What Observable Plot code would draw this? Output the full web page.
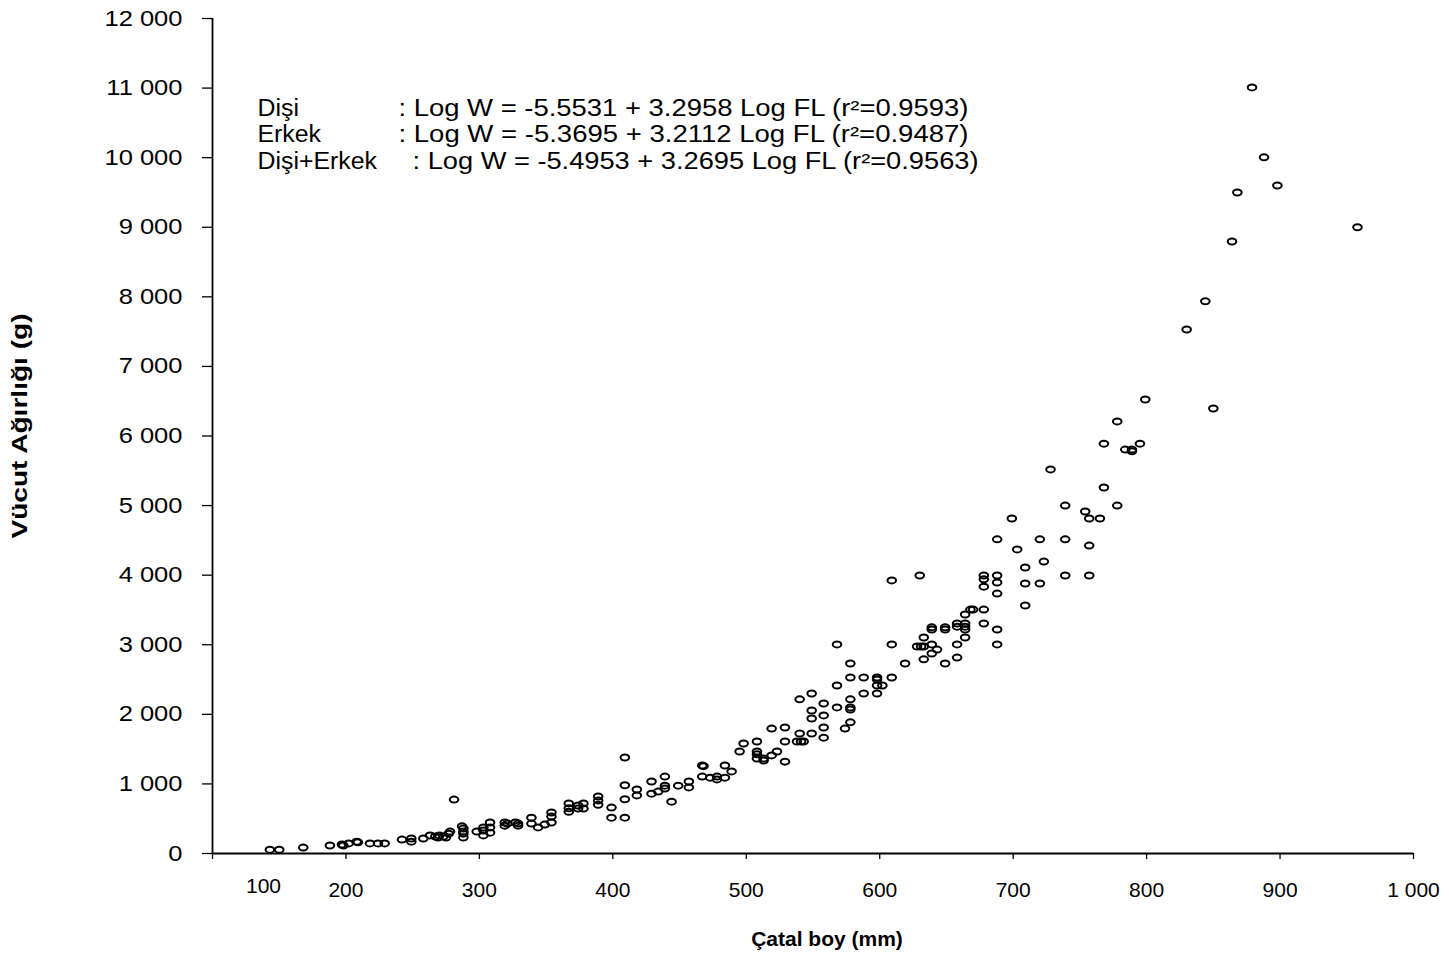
<!DOCTYPE html>
<html>
<head>
<meta charset="utf-8">
<script src="https://cdn.jsdelivr.net/npm/d3@7"></script>
<script src="https://cdn.jsdelivr.net/npm/@observablehq/plot@0.6"></script>
<style>
  body { margin: 0; background: #fff; }
  #chart svg { display: block; }
</style>
</head>
<body>
<div id="chart"></div>
<script>
// Fork length (mm)
const catalBoy = [
  143,150,168,188,197,198,202,208,209,218,224,229,242,249,249,258,263,267,269,270,273,275,277,278,281,287,288,288,288,288,298,
  303,303,303,308,308,308,319,319,321,327,329,329,339,339,344,349,354,354,354,
  367,367,367,374,374,378,378,389,389,389,399,399,409,409,409,409,418,418,429,429,434,439,439,439,444,449,457,457,467,468,467,473,478,478,484,484,489,495,498,508,508,508,508,513,513,519,519,523,
  529,529,529,538,541,543,540,540,549,549,549,549,558,558,558,558,568,568,568,574,578,578,578,578,578,578,588,588,598,598,598,598,602,609,609,609,619,628,630,631,633,633,633,639,639,639,639,643,649,649,649,658,658,658,658,664,664,664,664,664,668,670,678,678,678,678,678,
  688,688,688,688,688,688,699,703,709,709,709,720,720,723,728,739,739,739,754,757,765,757,757,768,768,778,778,784,789,789,795,
  799,830,844,850,864,868,879,888,898,958
];
// Body weight (g)
const vucutAgirligi = [
  55,55,85,115,130,115,145,170,160,145,145,145,200,215,170,215,260,245,230,260,245,230,285,315,775,390,360,315,285,230,315,
  375,330,260,445,375,300,445,400,430,445,430,400,515,430,375,415,590,530,445,
  720,650,600,690,645,720,645,820,760,700,660,515,1380,980,780,515,920,835,1035,860,890,1105,975,935,745,975,1035,950,1265,1255,1105,1090,1105,1065,1265,1090,1180,1465,1580,1610,1465,1425,1365,1335,1365,1795,1410,1465,
  1810,1610,1320,1610,1610,1610,1725,2215,2300,2055,1940,1725,2155,1985,1810,1665,3005,2415,2100,1795,2730,2530,2215,2100,2070,1885,2530,2300,2530,2500,2415,2300,2415,3925,3005,2530,2730,2975,3995,2975,2975,3105,2790,3250,3220,3005,2875,2930,3250,3220,2730,3305,3260,3005,2815,3435,3305,3260,3220,3105,3505,3505,3995,3940,3835,3505,3305,
  3995,3895,3735,3220,3005,4515,4815,4370,4110,3880,3565,4515,3880,4195,5520,5000,4515,3995,4915,4815,4815,4425,3995,5890,5260,6210,5000,5805,5805,5780,5890,
  6525,7530,7935,6395,8795,9500,11010,10005,9600,9000
];

const xDomain = [100, 1000];
const yDomain = [0, 12000];
const xTicks = [100, 200, 300, 400, 500, 600, 700, 800, 900, 1000];
const yTicks = [0, 1000, 2000, 3000, 4000, 5000, 6000, 7000, 8000, 9000, 10000, 11000, 12000];
const xFirstTickLabel = ["100"];

const eqGroups = ["Dişi", "Erkek", "Dişi+Erkek"];
const eqFormulas = [
  ": Log W = -5.5531 + 3.2958 Log FL (r²=0.9593)",
  ": Log W = -5.3695 + 3.2112 Log FL (r²=0.9487)",
  ": Log W = -5.4953 + 3.2695 Log FL (r²=0.9563)"
];

const xTitle = "Çatal boy (mm)";
const yTitle = "Vücut Ağırlığı (g)";

const points = catalBoy.map((fl, i) => ({fl, w: vucutAgirligi[i]}));

const fmt = d3.formatLocale({decimal: ".", thousands: " ", grouping: [3], currency: ["", ""]}).format(",");

const ellipse = {
  draw(ctx) {
    const rx = 4.3, ry = 3.0, k = 0.5523;
    ctx.moveTo(rx, 0);
    ctx.bezierCurveTo(rx, ry * k, rx * k, ry, 0, ry);
    ctx.bezierCurveTo(-rx * k, ry, -rx, ry * k, -rx, 0);
    ctx.bezierCurveTo(-rx, -ry * k, -rx * k, -ry, 0, -ry);
    ctx.bezierCurveTo(rx * k, -ry, rx, -ry * k, rx, 0);
    ctx.closePath();
  }
};

const font = "'Liberation Sans', Arial, Helvetica, sans-serif";

// layout of the equation block (pixels relative to the plot frame)
const eqLineDy = [90, 116, 143];
const eqFormulaDx = [186, 186, 200];
const eqFormulaLen = [570, 570, 566];

const eqMarks = [];
eqGroups.forEach((g, i) => {
  eqMarks.push(Plot.text([g], {text: d => d, frameAnchor: "top-left", dx: 45, dy: eqLineDy[i], textAnchor: "start", lineAnchor: "middle", fontSize: 23, fill: "black"}));
  eqMarks.push(Plot.text([eqFormulas[i]], {text: d => d, frameAnchor: "top-left", dx: eqFormulaDx[i], dy: eqLineDy[i], textAnchor: "start", lineAnchor: "middle", fontSize: 23, fill: "black"}));
});

const chart = Plot.plot({
  width: 1449,
  height: 959,
  marginLeft: 212,
  marginRight: 36,
  marginTop: 18,
  marginBottom: 106,
  style: {fontFamily: font, fontSize: "21px", color: "black", background: "white", overflow: "visible"},
  x: {domain: xDomain},
  y: {domain: yDomain},
  marks: [
    Plot.ruleX([xDomain[0]], {stroke: "black", strokeWidth: 1.8}),
    Plot.ruleY([yDomain[0]], {stroke: "black", strokeWidth: 1.8}),
    Plot.axisY({ticks: yTicks, tickSize: 10, tickPadding: 20, tickFormat: fmt, label: null, stroke: "black", strokeWidth: 1.3, fontSize: 22}),
    Plot.axisX({ticks: xTicks, tickSize: 6, tickPadding: 23, tickFormat: d => d === xDomain[0] ? "" : fmt(d), label: null, stroke: "black", strokeWidth: 1.3}),
    Plot.text(xFirstTickLabel, {x: () => xDomain[0], text: d => d, frameAnchor: "bottom", dx: 51, dy: 39, fontSize: 21, fill: "black"}),
    Plot.text([xTitle], {text: d => d, frameAnchor: "bottom", dx: 14, dy: 92, fontSize: 21, fontWeight: "bold", fill: "black"}),
    Plot.text([yTitle], {text: d => d, frameAnchor: "left", textAnchor: "middle", dx: -193, dy: -10, rotate: -90, fontSize: 22, fontWeight: "bold", fill: "black"}),
    ...eqMarks,
    Plot.dot(points, {x: "fl", y: "w", symbol: ellipse, stroke: "black", strokeWidth: 2, fill: "none"})
  ]
});

document.getElementById("chart").append(chart);

// horizontal stretching of some texts, as in the original figure
function stretch(node, length) {
  node.setAttribute("textLength", length);
  node.setAttribute("lengthAdjust", "spacingAndGlyphs");
}
chart.querySelectorAll('g[aria-label="y-axis tick label"] text').forEach(t => stretch(t, t.getComputedTextLength() * 1.16));
chart.querySelectorAll("text").forEach(t => {
  const s = t.textContent;
  const i = eqFormulas.indexOf(s);
  if (i >= 0) stretch(t, eqFormulaLen[i]);
  if (eqGroups.includes(s)) stretch(t, t.getComputedTextLength() * 1.08);
  if (s === yTitle) stretch(t, 225);
});
</script>
</body>
</html>
